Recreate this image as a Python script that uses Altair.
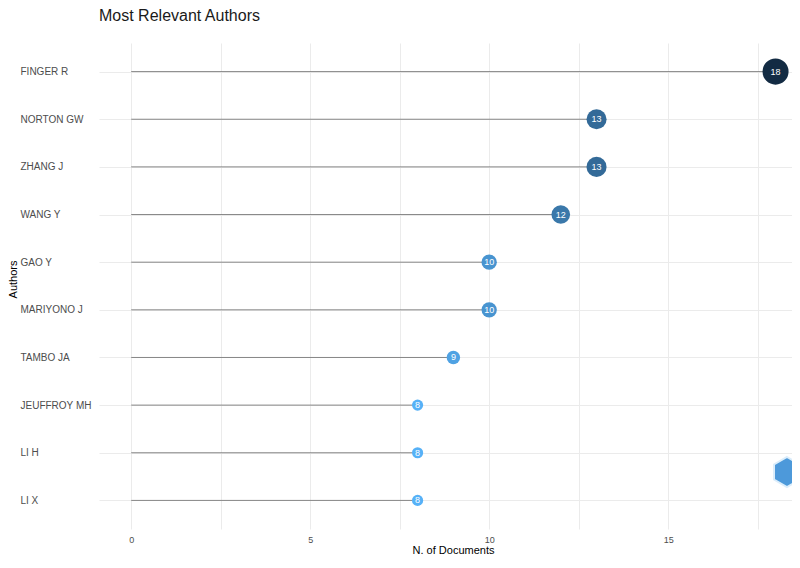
import altair as alt
import pandas as pd

authors = ["FINGER R", "NORTON GW", "ZHANG J", "WANG Y", "GAO Y",
           "MARIYONO J", "TAMBO JA", "JEUFFROY MH", "LI H", "LI X"]
docs = [18, 13, 13, 12, 10, 10, 9, 8, 8, 8]
x_ticks = [0, 2.5, 5, 7.5, 10, 12.5, 15, 17.5]

df = pd.DataFrame({"author": authors, "docs": docs, "zero": [0] * len(docs)})

FONT = "Liberation Sans"

y_enc = alt.Y("author:N", sort=authors,
              scale=alt.Scale(type="point", padding=0.6),
              axis=alt.Axis(title="Authors", labelAlign="left", labelPadding=79,
                            ticks=False, tickSize=0, domain=False,
                            labelFontSize=10, labelColor="#4d4d4d", labelFont=FONT,
                            titleFont=FONT, titleFontSize=11, titleFontWeight="normal",
                            titleColor="#000000", titleX=-86, titleY=236,
                            titleBaseline="middle", titleAngle=270,
                            grid=True, gridColor="#ebebeb", gridWidth=1))

x_scale = alt.Scale(domain=[-0.9, 18.46], nice=False, zero=False)
x_axis = alt.Axis(title="N. of Documents", values=x_ticks,
                  labelExpr="datum.value % 5 == 0 ? datum.label : ''",
                  ticks=False, tickSize=0, domain=False, labelPadding=6,
                  labelFontSize=9, labelColor="#4d4d4d", labelFont=FONT,
                  titleFont=FONT, titleFontSize=11, titleFontWeight="normal",
                  titleColor="#000000", titleX=354, titleY=21, titleBaseline="middle",
                  grid=True, gridColor="#ebebeb", gridWidth=1)

base = alt.Chart(df)

seg = base.mark_rule(color="#7a7a7a", strokeWidth=0.9).encode(
    x=alt.X("zero:Q", scale=x_scale, axis=x_axis),
    x2="docs:Q",
    y=y_enc,
)

pts = base.mark_circle(opacity=1).encode(
    x=alt.X("docs:Q", scale=x_scale),
    y=alt.Y("author:N", sort=authors),
    size=alt.Size("docs:Q", scale=alt.Scale(domain=[8, 18], range=[125, 680], zero=False), legend=None),
    color=alt.Color("docs:Q", scale=alt.Scale(domain=[8, 18], range=["#56B1F7", "#132B43"],
                                              interpolate="lab"), legend=None),
)

txt = base.mark_text(color="white", fontSize=9, font=FONT, baseline="middle", align="center").encode(
    x=alt.X("docs:Q", scale=x_scale),
    y=alt.Y("author:N", sort=authors),
    text="docs:Q",
)

logo = alt.Chart(pd.DataFrame({"a": [1]})).mark_point(
    shape="M0,-1L0.866,-0.5L0.866,0.5L0,1L-0.866,0.5L-0.866,-0.5Z",
    filled=True, fill="#3a8fd6", stroke="#d8ecfb", strokeWidth=2, size=900, opacity=0.9
).encode(x=alt.value(688), y=alt.value(429))

chart = alt.layer(seg, pts, txt, logo).properties(
    width=693, height=486,
    background="white",
    autosize=alt.AutoSizeParams(type="none"),
    padding={"left": 91, "top": 35, "right": 0, "bottom": 27},
    title=alt.Title("Most Relevant Authors", anchor="start", frame="group",
                    fontSize=16, font=FONT, fontWeight="normal", color="#1a1a1a",
                    offset=19),
).configure_view(strokeWidth=0, stroke="transparent")

chart.save("out.html", embed_options={"renderer": "svg", "actions": False})
